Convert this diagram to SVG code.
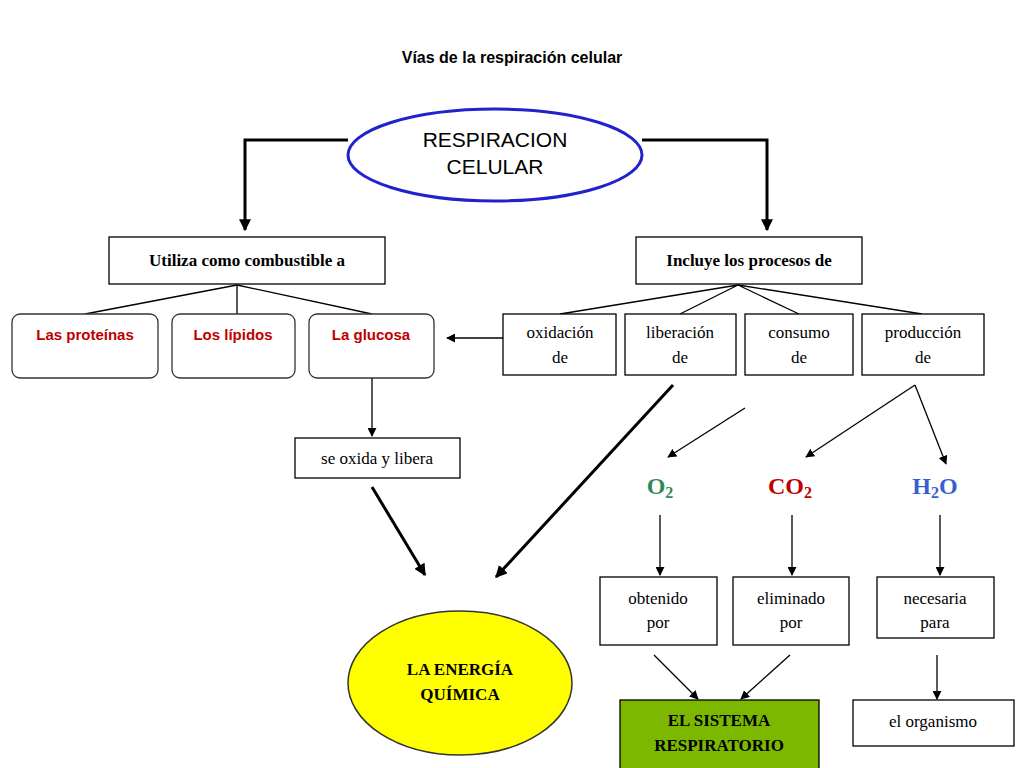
<svg xmlns="http://www.w3.org/2000/svg" width="1024" height="768" viewBox="0 0 1024 768">
<defs>
<marker id="a" viewBox="0 0 10 10" refX="9" refY="5" markerWidth="9" markerHeight="9" markerUnits="userSpaceOnUse" orient="auto"><path d="M0,0L10,5L0,10z" fill="#000"/></marker>
<marker id="b" viewBox="0 0 10 10" refX="9" refY="5" markerWidth="12" markerHeight="12" markerUnits="userSpaceOnUse" orient="auto"><path d="M0,0L10,5L0,10z" fill="#000"/></marker>
<style>
.bx{fill:#fff;stroke:#000;stroke-width:1.3}
.rb{fill:#fff;stroke:#333;stroke-width:1.3}
.s{font-family:"Liberation Serif",serif;font-size:17px;fill:#000;text-anchor:middle}
.sb{font-family:"Liberation Serif",serif;font-size:17px;font-weight:bold;fill:#000;text-anchor:middle}
.r{font-family:"Liberation Sans",sans-serif;font-size:15px;font-weight:bold;fill:#c00000;text-anchor:middle}
.m{font-family:"Liberation Serif",serif;font-size:24px;font-weight:bold;text-anchor:middle}
.l{stroke:#000;stroke-width:1.3;fill:none}
.t{stroke:#000;stroke-width:3;fill:none}
</style>
</defs>
<rect width="1024" height="768" fill="#fff"/>
<text x="512" y="63" font-family="Liberation Sans,sans-serif" font-size="16" font-weight="bold" text-anchor="middle">Vías de la respiración celular</text>
<g id="connectors">
<path class="t" d="M348,140H245V230" marker-end="url(#b)"/>
<path class="t" d="M642,140H767V230" marker-end="url(#b)"/>
<path class="l" d="M237,285L85,314M237,285V314M237,285L372,314"/>
<path class="l" d="M738,285L560,314M738,285L680,314M738,285L799,314M738,285L922,314"/>
<path class="l" d="M503,338H447" marker-end="url(#a)"/>
<path class="l" d="M372,378V436" marker-end="url(#a)"/>
<path class="t" d="M372,487L425,575" marker-end="url(#b)"/>
<path class="t" d="M673,385L496,577" marker-end="url(#b)"/>
<path class="l" d="M745,408L668,457" marker-end="url(#a)"/>
<path class="l" d="M915,385L806,457" marker-end="url(#a)"/>
<path class="l" d="M915,385L946,464" marker-end="url(#a)"/>
<path class="l" d="M660,515V575" marker-end="url(#a)"/>
<path class="l" d="M792,515V575" marker-end="url(#a)"/>
<path class="l" d="M940,515V575" marker-end="url(#a)"/>
<path class="l" d="M654,655L698,699" marker-end="url(#a)"/>
<path class="l" d="M790,655L741,699" marker-end="url(#a)"/>
<path class="l" d="M937,655V699" marker-end="url(#a)"/>
</g>
<g id="respiracion"><ellipse cx="495" cy="155" rx="147" ry="46" fill="#fff" stroke="#2222cc" stroke-width="3"/>
<text x="495" y="147" font-family="Liberation Sans,sans-serif" font-size="21" text-anchor="middle">RESPIRACION</text>
<text x="495" y="174" font-family="Liberation Sans,sans-serif" font-size="21" text-anchor="middle">CELULAR</text></g>
<g id="utiliza"><rect class="bx" x="109" y="237" width="276" height="47"/><text class="sb" x="247" y="266">Utiliza como combustible a</text></g>
<g id="incluye"><rect class="bx" x="636" y="237" width="226" height="47"/><text class="sb" x="749" y="266">Incluye los procesos de</text></g>
<g id="proteinas"><rect class="rb" x="12" y="314" width="146" height="64" rx="8"/><text class="r" x="85" y="340">Las proteínas</text></g>
<g id="lipidos"><rect class="rb" x="172" y="314" width="123" height="64" rx="8"/><text class="r" x="233" y="340">Los lípidos</text></g>
<g id="glucosa"><rect class="rb" x="309" y="314" width="125" height="64" rx="8"/><text class="r" x="371" y="340">La glucosa</text></g>
<g id="oxidacion"><rect class="bx" x="503" y="314" width="113" height="61"/><text class="s" x="560" y="338">oxidación</text><text class="s" x="560" y="363">de</text></g>
<g id="liberacion"><rect class="bx" x="625" y="314" width="111" height="61"/><text class="s" x="680" y="338">liberación</text><text class="s" x="680" y="363">de</text></g>
<g id="consumo"><rect class="bx" x="745" y="314" width="108" height="61"/><text class="s" x="799" y="338">consumo</text><text class="s" x="799" y="363">de</text></g>
<g id="produccion"><rect class="bx" x="862" y="314" width="122" height="61"/><text class="s" x="923" y="338">producción</text><text class="s" x="923" y="363">de</text></g>
<g id="oxida"><rect class="bx" x="295" y="438" width="165" height="40"/><text class="s" x="377" y="464">se oxida y libera</text></g>
<g id="o2"><text class="m" x="660" y="494" fill="#2e8b57">O<tspan font-size="16" dy="4">2</tspan></text></g>
<g id="co2"><text class="m" x="790" y="494" fill="#c00000">CO<tspan font-size="16" dy="4">2</tspan></text></g>
<g id="h2o"><text class="m" x="935" y="494" fill="#3a5fcd">H<tspan font-size="16" dy="4">2</tspan><tspan dy="-4">O</tspan></text></g>
<g id="obtenido"><rect class="bx" x="600" y="577" width="117" height="68"/><text class="s" x="658" y="604">obtenido</text><text class="s" x="658" y="628">por</text></g>
<g id="eliminado"><rect class="bx" x="733" y="577" width="116" height="68"/><text class="s" x="791" y="604">eliminado</text><text class="s" x="791" y="628">por</text></g>
<g id="necesaria"><rect class="bx" x="877" y="577" width="117" height="61"/><text class="s" x="935" y="604">necesaria</text><text class="s" x="935" y="628">para</text></g>
<g id="energia"><ellipse cx="460" cy="683" rx="112" ry="72" fill="#ffff00" stroke="#333" stroke-width="1.5"/><text class="sb" x="460" y="675">LA ENERGÍA</text><text class="sb" x="460" y="700">QUÍMICA</text></g>
<g id="sistema"><rect x="620" y="700" width="199" height="70" fill="#7cb800" stroke="#000" stroke-width="1.3"/><text class="sb" x="719" y="726">EL SISTEMA</text><text class="sb" x="719" y="751">RESPIRATORIO</text></g>
<g id="organismo"><rect class="bx" x="853" y="700" width="161" height="46"/><text class="s" x="933" y="727">el organismo</text></g>
</svg>
